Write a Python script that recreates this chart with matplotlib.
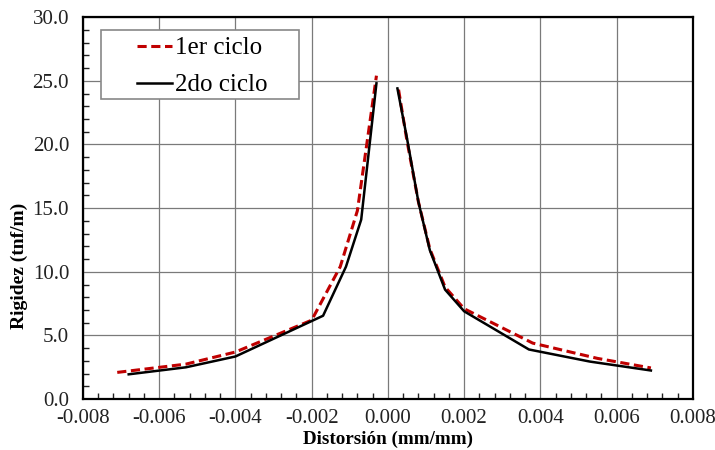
import numpy as np
import matplotlib.pyplot as plt
from matplotlib.ticker import MultipleLocator, FormatStrFormatter
from matplotlib.patches import Rectangle

plt.rcParams['font.family'] = ['Liberation Serif', 'DejaVu Serif']

# 1er ciclo (rama negativa / positiva)
c1_x_neg = [-0.0071, -0.0053, -0.0040, -0.0020, -0.00125, -0.0008, -0.0003]
c1_y_neg = [2.1, 2.75, 3.7, 6.2, 10.4, 14.8, 25.4]
c1_x_pos = [0.00028, 0.0005, 0.0008, 0.0011, 0.0015, 0.0020, 0.0038, 0.0055, 0.0069]
c1_y_pos = [24.3, 20.3, 15.5, 11.8, 8.8, 7.1, 4.4, 3.2, 2.45]

# 2do ciclo
c2_x_neg = [-0.0068, -0.0053, -0.0040, -0.0017, -0.0011, -0.0007, -0.0003]
c2_y_neg = [1.95, 2.5, 3.35, 6.55, 10.4, 14.1, 24.8]
c2_x_pos = [0.00025, 0.0005, 0.0008, 0.0011, 0.0015, 0.0020, 0.0037, 0.0053, 0.0069]
c2_y_pos = [24.4, 20.5, 15.5, 11.7, 8.6, 6.9, 3.9, 2.95, 2.25]

fig = plt.figure(figsize=(7.15, 4.5), dpi=100)
ax = fig.add_axes([0.116, 0.113, 0.853, 0.849])

red = '#C00000'
dash = (0, (3, 1.5))
ax.plot(c1_x_neg, c1_y_neg, color=red, lw=2.2, ls=dash, label='1er ciclo', zorder=3)
ax.plot(c1_x_pos, c1_y_pos, color=red, lw=2.2, ls=dash, zorder=3)
ax.plot(c2_x_neg, c2_y_neg, color='black', lw=1.8, label='2do ciclo', zorder=4)
ax.plot(c2_x_pos, c2_y_pos, color='black', lw=1.8, zorder=4)

ax.set_xlim(-0.008, 0.008)
ax.set_ylim(0, 30)
ax.xaxis.set_major_locator(MultipleLocator(0.002))
ax.xaxis.set_minor_locator(MultipleLocator(0.0004))
ax.yaxis.set_major_locator(MultipleLocator(5))
ax.yaxis.set_minor_locator(MultipleLocator(1))
ax.xaxis.set_major_formatter(FormatStrFormatter('%.3f'))
ax.yaxis.set_major_formatter(FormatStrFormatter('%.1f'))
ax.tick_params(which='both', direction='in', top=False, right=False, labelsize=15, colors='#222222')
ax.tick_params(axis='x', which='major', length=0, pad=7)
ax.tick_params(axis='y', which='major', length=0, pad=10)
ax.tick_params(which='minor', length=4, width=1)
ax.grid(True, which='major', color='#7a7a7a', lw=0.9)
for s in ax.spines.values():
    s.set_linewidth(1.6)
    s.set_color('black')

ax.set_xlabel('Distorsión (mm/mm)', fontsize=13.7, fontweight='bold', labelpad=2)
ax.set_ylabel('Rigidez (tnf/m)', fontsize=14, fontweight='bold')
ax.yaxis.set_label_coords(-0.09, 0.35)

# caja de la leyenda
ax.add_patch(Rectangle((0.029, 0.785), 0.325, 0.181, transform=ax.transAxes,
                       facecolor='white', edgecolor='#888888', lw=1.2, zorder=5))
leg = ax.legend(loc='upper left', bbox_to_anchor=(0.088, 0.948), fontsize=18,
                frameon=False, handlelength=1.4, handletextpad=0.15,
                borderpad=0, borderaxespad=0, labelspacing=0.58)
leg.set_zorder(6)

fig.savefig('out.png', dpi=100)
